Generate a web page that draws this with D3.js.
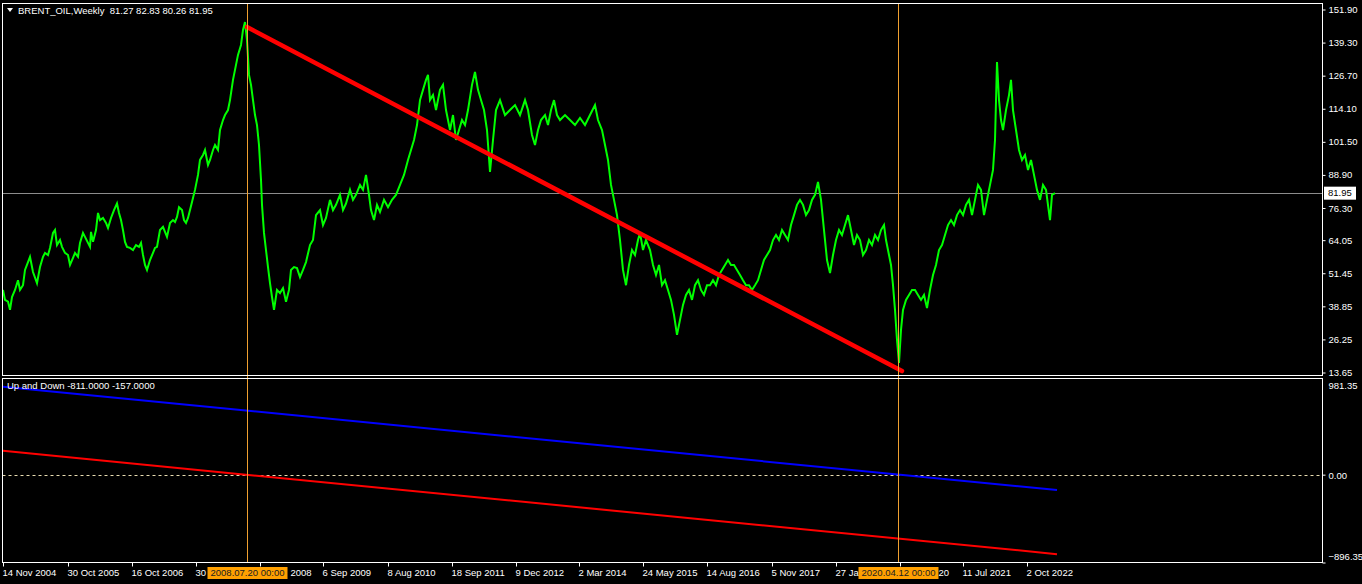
<!DOCTYPE html>
<html><head><meta charset="utf-8">
<script src="https://cdn.jsdelivr.net/npm/d3@7"></script>
<style>
html,body{margin:0;padding:0;background:#000;overflow:hidden}
svg{display:block}
text{font-family:"Liberation Sans",Arial,sans-serif;font-size:9.5px;fill:#fff}
</style></head><body>
<svg id="c" width="1362" height="584"></svg>
<script>
// ---- data ----
const symbolTitle = "BRENT_OIL,Weekly  81.27 82.83 80.26 81.95";
const indicatorTitle = "Up and Down -811.0000 -157.0000";
const lastPrice = 81.95;
const barIndex = [0,2,5,7,9,12,15,17,20,22,25,27,30,34,37,40,42,45,47,50,52,54,57,59,62,65,67,70,72,75,77,80,82,85,87,88,90,93,95,97,100,103,105,108,111,114,116,118,120,122,124,127,130,133,136,138,140,142,144,147,150,152,154,157,160,162,164,167,170,172,174,176,179,181,183,185,187,189,192,195,197,200,202,205,207,210,212,215,217,220,222,225,227,230,232,235,238,240,242,244,246,248,250,252,254,256,258,259,261,263,265,267,269,271,274,277,280,283,286,288,291,294,297,300,303,307,310,313,317,320,323,327,330,333,337,340,343,347,350,353,357,360,363,366,368,371,374,377,381,385,389,393,397,401,405,408,411,414,417,420,423,425,427,430,433,437,440,443,447,450,453,456,459,462,465,469,472,475,478,481,484,487,490,493,497,502,507,512,517,522,525,529,532,535,538,542,545,548,551,554,557,562,567,572,577,582,587,592,595,599,602,605,608,611,614,617,620,623,626,629,632,635,637,640,643,647,650,653,656,659,662,665,668,671,674,677,680,683,686,689,692,695,698,701,704,707,710,713,716,719,722,725,728,731,734,737,740,743,746,749,752,755,758,761,764,767,770,773,776,779,782,785,788,791,794,797,800,803,806,809,812,815,818,821,824,827,830,833,836,839,842,845,848,851,854,857,860,863,866,869,872,875,878,881,883,886,888,890,892,894,896,898,900,903,906,909,912,915,918,921,924,927,930,933,936,939,942,945,948,951,954,957,960,963,966,969,972,975,978,981,984,987,990,992,994,996,998,1000,1003,1006,1008,1010,1013,1016,1019,1022,1025,1028,1031,1034,1037,1040,1043,1047,1049,1052];
const closeValues = [45.1,41.3,40.6,37.5,42.4,45.1,48.8,45.1,46.9,52.7,55.7,57.7,51.9,47.7,53.8,57.7,59.2,58.4,61.1,66.8,67.9,62.2,64.1,61.5,59.2,58.4,54.6,57.3,59.2,57.7,63.0,66.8,65.3,63.0,61.5,67.2,63.4,67.9,74.4,71.7,72.5,70.6,68.7,72.5,75.5,78.0,74.4,71.7,67.9,63.4,61.5,61.1,60.3,62.2,61.5,63.0,58.4,54.6,52.7,56.5,59.2,61.1,61.5,67.9,69.1,67.2,65.3,70.6,71.7,71.0,72.9,76.6,75.5,71.7,70.6,72.5,75.5,78.6,83.2,88.9,94.6,96.5,98.4,92.7,94.6,98.4,100.3,98.4,106.0,109.8,111.7,113.6,117.4,125.1,128.9,134.6,138.4,144.1,147.1,140.3,127.0,123.2,117.4,111.7,107.9,100.3,87.0,77.5,66.8,60.3,53.8,47.7,42.4,37.5,45.1,43.9,45.8,40.6,45.1,52.7,53.8,53.4,50.0,52.7,55.7,62.2,64.1,73.6,75.5,69.8,72.5,79.4,75.5,77.5,81.3,75.5,78.0,83.2,79.4,81.3,85.1,83.2,88.9,81.3,75.5,71.7,77.5,74.8,79.4,76.6,79.4,81.3,85.1,88.9,94.6,98.4,102.2,107.9,117.4,121.3,125.1,127.0,117.4,119.3,113.6,121.3,123.2,113.6,106.0,111.7,102.2,106.0,109.8,107.9,113.6,123.2,128.1,121.3,117.4,113.6,106.0,90.0,102.2,113.6,117.4,111.7,113.6,115.5,111.7,117.4,113.6,104.1,100.3,106.0,109.8,111.7,107.9,113.6,117.4,111.7,109.8,111.7,109.8,107.9,110.6,107.9,111.7,115.5,109.8,106.0,100.3,94.6,85.1,79.4,73.6,64.1,52.7,46.9,54.6,60.3,58.4,64.1,66.8,60.3,64.1,60.3,54.6,50.8,54.6,46.9,48.8,45.1,41.3,35.6,28.0,33.7,39.4,43.2,45.1,41.3,46.9,48.8,45.1,43.2,46.9,46.9,48.8,46.9,50.8,52.7,54.6,56.5,54.6,54.6,52.7,50.8,48.8,46.9,46.9,45.1,46.9,48.8,52.7,56.5,58.4,60.3,64.1,66.0,64.1,67.9,66.0,64.1,69.8,73.6,77.5,79.4,77.5,73.6,75.5,79.4,81.3,86.2,79.4,67.9,56.5,51.5,58.4,64.1,67.9,66.0,69.8,73.6,67.9,62.2,66.0,64.1,58.4,60.3,64.1,62.2,66.0,64.1,67.9,69.8,64.1,58.4,54.6,46.9,37.5,26.1,17.3,29.9,37.5,41.3,43.2,45.1,45.1,43.2,41.3,43.2,38.2,45.1,50.8,54.6,60.3,62.2,66.0,69.8,71.7,69.8,73.6,75.5,73.6,77.5,79.4,73.6,79.4,85.1,83.2,73.6,79.4,85.1,90.8,102.2,131.9,117.4,109.8,106.0,113.6,119.3,125.1,113.6,106.0,98.4,94.6,96.5,90.8,94.6,88.9,83.2,79.4,85.1,83.2,71.7,81.3,81.95];
const trendBars = [244, 899];
const trendValues = [145.2, 14.2];
const upBars = [0, 1054];
const upValues = [897, -157];
const downBars = [0, 1054];
const downValues = [243, -811];
const priceTicks = [151.90,139.30,126.70,114.10,101.50,88.90,76.30,64.05,51.45,38.85,26.25,13.65];
const indTicks = [981.35, 0.00, -896.35];
const dateTickBars = [0,65,129,193,257,320,385,449,513,576,640,704,769,833,897,960,1024];
// labels as they remain visible beside the orange date boxes
const dateTickLabels = ["14 Nov 2004","30 Oct 2005","16 Oct 2006","30","2008","6 Sep 2009","8 Aug 2010","18 Sep 2011","9 Dec 2012","2 Mar 2014","24 May 2015","14 Aug 2016","5 Nov 2017","27 Ja","20","11 Jul 2021","2 Oct 2022"];
const vlineBars = [244, 895];
const vlineLabels = ["2008.07.20 00:00", "2020.04.12 00:00"];

// ---- layout ----
const svg = d3.select("#c");
const L = 2.5, R = 1322.5, mainTop = 3.5, mainBot = 375.5, indTop = 378.5, indBot = 562.5;
const x = d3.scaleLinear().domain([0, 1052]).range([3, 1055]);
const yP = d3.scaleLinear().domain([13.65, 151.90]).range([372.5, 9.5]);
const yI = d3.scaleLinear().domain([-896.35, 981.35]).range([indBot, indTop]);

svg.append("rect").attr("width",1362).attr("height",584).attr("fill","#000");

svg.append("clipPath").attr("id","cm").append("rect").attr("x",L).attr("y",mainTop).attr("width",R-L).attr("height",mainBot-mainTop);
svg.append("clipPath").attr("id","ci").append("rect").attr("x",L).attr("y",indTop).attr("width",R-L).attr("height",indBot-indTop);

// last price horizontal line
const lpy = Math.round(yP(lastPrice))+0.5;
svg.append("line").attr("x1",L).attr("x2",R).attr("y1",lpy).attr("y2",lpy)
  .attr("stroke","#8c8c8c").attr("stroke-width",1);

// price line
const gm = svg.append("g").attr("clip-path","url(#cm)");
gm.append("path").datum(barIndex.map((b,i)=>[b,closeValues[i]]))
  .attr("d", d3.line().x(d=>x(d[0])).y(d=>yP(d[1])))
  .attr("fill","none").attr("stroke","#00ff00").attr("stroke-width",2);

// zero dashed line
const gi = svg.append("g").attr("clip-path","url(#ci)");
const zy = Math.round(yI(0))+0.5;
gi.append("line").attr("x1",L).attr("x2",R).attr("y1",zy).attr("y2",zy)
  .attr("stroke","#e8dcb0").attr("stroke-width",1).attr("stroke-dasharray","3,3");

// vertical lines
vlineBars.forEach(b=>{
  const xx = Math.round(x(b))+0.5;
  svg.append("line").attr("x1",xx).attr("x2",xx).attr("y1",mainTop).attr("y2",indBot).attr("stroke","#f0a030").attr("stroke-width",1);
});

// trendline
gm.append("path").datum(trendBars.map((b,i)=>[b,trendValues[i]]))
  .attr("d", d3.line().x(d=>x(d[0])).y(d=>yP(d[1])))
  .attr("fill","none").attr("stroke","#ff0000").attr("stroke-width",4.5).attr("stroke-linecap","round");

// indicator lines
gi.append("path").datum(upBars.map((b,i)=>[b,upValues[i]]))
  .attr("d", d3.line().x(d=>x(d[0])).y(d=>yI(d[1])))
  .attr("fill","none").attr("stroke","#0000ff").attr("stroke-width",2);
gi.append("path").datum(downBars.map((b,i)=>[b,downValues[i]]))
  .attr("d", d3.line().x(d=>x(d[0])).y(d=>yI(d[1])))
  .attr("fill","none").attr("stroke","#ff0000").attr("stroke-width",2);

// pane borders
[[mainTop,mainBot],[indTop,indBot]].forEach(([t,b])=>{
  svg.append("rect").attr("x",L).attr("y",t).attr("width",R-L).attr("height",b-t).attr("fill","none").attr("stroke","#fff").attr("stroke-width",1);
});

// right price axis
const ax1 = svg.append("g").attr("transform",`translate(${R},0)`)
  .call(d3.axisRight(yP).tickValues(priceTicks).tickFormat(d3.format(".2f")).tickSize(3).tickPadding(3));
ax1.select(".domain").remove();
ax1.selectAll("line").attr("stroke","#fff");
ax1.selectAll("text").attr("fill","#fff").style("font-size","9.5px");

// last price label box
const ly = yP(lastPrice);
svg.append("rect").attr("x",1324).attr("y",ly-6.5).attr("width",32).attr("height",13).attr("fill","#fff");
svg.append("text").attr("x",1328).attr("y",ly).attr("dy","0.34em").style("fill","#000").text(d3.format(".2f")(lastPrice));

// right indicator axis (end labels sit inside the pane edges)
const ax2 = svg.append("g").attr("transform",`translate(${R},0)`)
  .call(d3.axisRight(yI).tickValues(indTicks).tickFormat(d3.format(".2f")).tickSize(3).tickPadding(3));
ax2.select(".domain").remove();
ax2.selectAll("line").attr("stroke","#fff");
ax2.selectAll(".tick").filter(d=>d>0).select("line").remove();
ax2.selectAll("text").attr("fill","#fff").style("font-size","9.5px")
  .attr("y", d => d>0 ? 7 : (d<0 ? -6 : 1));

// bottom date axis
const ax3 = svg.append("g").attr("transform",`translate(0,${indBot})`)
  .call(d3.axisBottom(x).tickValues(dateTickBars).tickFormat((d,i)=>dateTickLabels[i]).tickSize(4).tickPadding(3));
ax3.select(".domain").remove();
ax3.selectAll("line").attr("stroke","#fff");
ax3.selectAll("text").attr("fill","#fff").attr("text-anchor","start").style("font-size","9.5px")
  .attr("dx", (d,i)=> dateTickLabels[i]==="2008" ? "30" : (dateTickLabels[i]==="20" ? "38" : "-1"));

// orange vline date labels
vlineBars.forEach((b,i)=>{
  const cx = Math.round(x(b))+0.5;
  svg.append("rect").attr("x",cx-40).attr("y",567).attr("width",80).attr("height",12).attr("fill","#ffa000");
  svg.append("text").attr("x",cx).attr("y",573).attr("dy","0.34em").attr("text-anchor","middle").style("fill","#202020").text(vlineLabels[i]);
});

// titles
svg.append("path").attr("d","M7,8 L13,8 L10,12 Z").attr("fill","#fff");
svg.append("text").attr("x",18).attr("y",11).attr("dy","0.34em").style("white-space","pre").text(symbolTitle);
svg.append("text").attr("x",7).attr("y",386).attr("dy","0.34em").text(indicatorTitle);
</script>
</body></html>
